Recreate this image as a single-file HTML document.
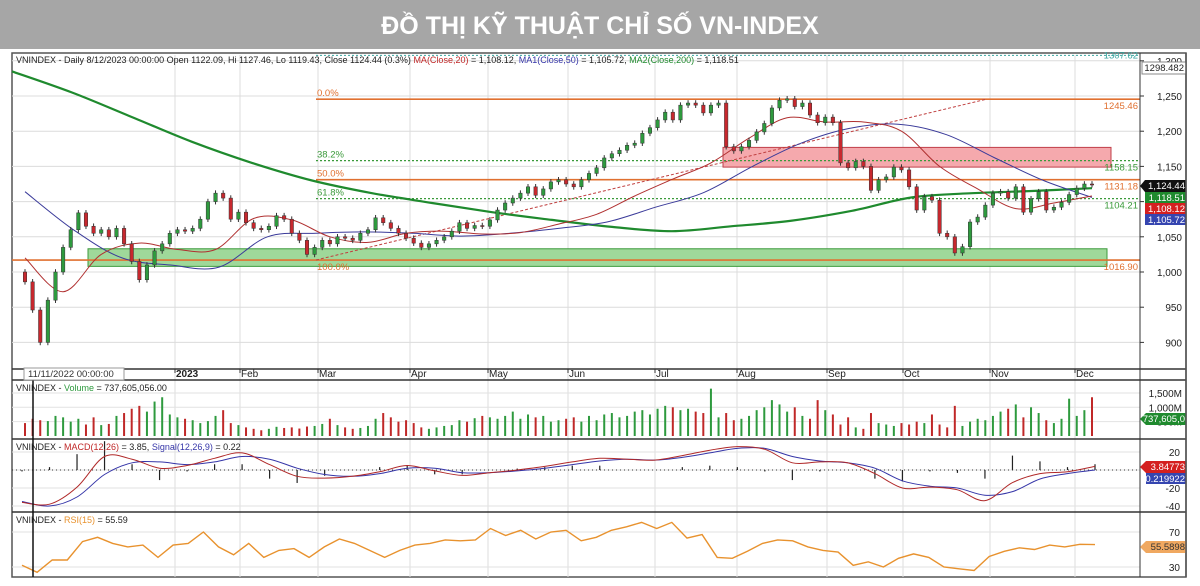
<!DOCTYPE html>
<html><head><meta charset="utf-8">
<style>
html,body{margin:0;padding:0;background:#fff;}
svg{display:block;font-family:"Liberation Sans","Noto Sans CJK SC",sans-serif;}
</style></head>
<body>
<svg id="chart" width="1200" height="586" viewBox="0 0 1200 586" xmlns="http://www.w3.org/2000/svg">
  <rect x="0" y="0" width="1200" height="586" fill="#ffffff"/>
  <rect x="0" y="0" width="1200" height="49" fill="#a6a6a6"/>
  <text x="600" y="34" text-anchor="middle" font-size="25" font-weight="bold" fill="#ffffff">ĐỒ THỊ KỸ THUẬT CHỈ SỐ VN-INDEX</text>
  <rect x="12" y="53" width="1174" height="524" fill="none" stroke="#555" stroke-width="1.5"/>
  <g id="grid"></g>
  <g id="zones"></g>
  <g id="main"></g>
  <g id="lower"></g>
  <g id="axes"></g>
</svg>
<script>
const NS="http://www.w3.org/2000/svg";
// ---- data ----
const months=["2023","Feb","Mar","Apr","May","Jun","Jul","Aug","Sep","Oct","Nov","Dec"];
const priceTicks=[1300,1250,1200,1150,1100,1050,1000,950,900];
const closes=[986,946,900,960,1000,1035,1060,1084,1065,1055,1060,1050,1062,1040,1015,989,1010,1030,1040,1055,1060,1058,1062,1075,1100,1112,1105,1075,1085,1070,1062,1060,1065,1080,1075,1055,1045,1025,1035,1045,1040,1050,1048,1045,1055,
1060,1077,1070,1062,1055,1048,1041,1035,1040,1045,1050,1058,1070,1062,1066,1065,1074,1088,1098,1105,1112,1121,1109,1118,1128,1131,1125,1121,1131,1140,1148,1162,1168,1173,1180,1183,1197,1205,1216,1227,1216,1237,
1240,1237,1226,1237,1240,1178,1172,1178,1187,1199,1211,1233,1244,1246,1235,1240,1223,1212,1220,1212,1155,1148,1157,1150,1116,1131,1135,1149,1145,1121,1088,1107,1102,1055,1050,1027,1036,1071,1078,1095,1112,1114,1105,1121,1085,1104,1114,1088,1092,1099,1110,1119,1125,1124];
const volumes=[450,600,550,520,700,650,500,600,400,650,380,420,700,800,950,1050,850,1200,1350,750,650,600,550,450,520,700,900,450,380,300,250,200,250,320,280,300,260,330,350,420,600,380,300,250,280,
350,600,800,650,500,550,450,300,250,300,350,380,550,500,620,700,650,600,700,850,600,750,650,700,500,550,600,650,500,700,550,750,800,650,700,850,900,750,950,1050,1000,900,
950,850,800,1650,650,800,550,600,700,900,1000,1250,1100,850,1000,700,600,1250,900,750,400,650,300,250,800,450,400,350,450,400,500,450,750,400,300,1050,350,500,600,550,700,850,950,1100,650,1000,800,550,450,600,1300,700,900,1350];
const ma20=[1020,972,1025,1041,1032,1032,1076,1074,1050,1042,1055,1058,1054,1056,1068,1082,1108,1132,1155,1190,1219,1213,1213,1200,1150,1118,1090,1098,1108];
const ma50=[1114,1060,1020,1010,1007,1050,1055,1057,1055,1051,1055,1062,1071,1092,1113,1150,1183,1204,1210,1195,1162,1130,1106];
const ma200=[1285,1255,1220,1185,1155,1130,1112,1098,1085,1074,1064,1058,1065,1073,1087,1106,1112,1115,1119];
const macd=[-36,-38,-19,15,12,2,5,13,19,6,-7,-9,-7,-2,5,-1,-6,-3,0,4,9,13,12,11,16,22,26,23,8,9,8,-4,-20,-19,-22,-34,-14,-4,-2,4];
const signal=[-35,-40,-30,-5,8,9,6,9,15,12,2,-5,-7,-4,2,2,-3,-3,-1,2,6,10,12,11,14,19,24,24,15,10,8,2,-12,-18,-20,-28,-24,-10,-4,0];
const rsi=[32,24,38,38,59,64,57,53,55,41,55,57,70,53,44,57,41,49,51,41,53,62,57,49,41,49,55,57,61,60,61,74,66,72,62,70,72,60,64,72,76,81,74,81,63,67,41,40,48,57,61,60,53,49,47,32,36,30,40,45,41,30,28,26,42,48,52,50,55,53,56,55.6];
const fibLevels=[1245.46,1158.15,1131.18,1104.21,1016.90];
const fibPct=["0.0%","38.2%","50.0%","61.8%","100.0%"];
// ---- layout ----
const monthX=[175,240,318,410,488,568,655,737,827,903,990,1075];
const PL=12,PR=1140;
const py=p=>96+(1250-p)*0.704;
const cx=i=>25+i*(1092-25)/(closes.length-1);
const vy=v=>436-v*0.0287;
const my=v=>470-v*0.9;
const ry=v=>532+(70-v)*0.875;
function mk(tag,attrs,parent,text){const e=document.createElementNS(NS,tag);for(const k in attrs)e.setAttribute(k,attrs[k]);if(text!==undefined)e.textContent=text;document.getElementById(parent).appendChild(e);return e;}
function pts(arr,x0,x1,yf){return arr.map((v,i)=>[x0+i*(x1-x0)/(arr.length-1),yf(v)]);}
function spreadPath(arr,x0,x1,yf){return pts(arr,x0,x1,yf).map((p,i)=>(i?'L':'M')+p[0].toFixed(1)+' '+p[1].toFixed(1)).join(' ');}
function smoothPath(arr,x0,x1,yf){const p=pts(arr,x0,x1,yf);let d='M'+p[0][0].toFixed(1)+' '+p[0][1].toFixed(1);
  for(let i=0;i<p.length-1;i++){const a=p[i-1]||p[i],b=p[i],c=p[i+1],e=p[i+2]||c;
    const c1=[b[0]+(c[0]-a[0])/6,b[1]+(c[1]-a[1])/6],c2=[c[0]-(e[0]-b[0])/6,c[1]-(e[1]-b[1])/6];
    d+=` C${c1[0].toFixed(1)} ${c1[1].toFixed(1)} ${c2[0].toFixed(1)} ${c2[1].toFixed(1)} ${c[0].toFixed(1)} ${c[1].toFixed(1)}`;}
  return d;}
// grid
monthX.forEach((x,i)=>{
  const g=mk('line',{x1:x,y1:55,x2:x,y2:577,stroke:'#dcdcdc','stroke-width':1},'grid');
  
  
  const t=mk('text',{x:x+1,y:377,'font-size':10,fill:'#222','font-weight':i===0?'bold':'normal'},'axes',months[i]);
  
  
  mk('line',{x1:x,y1:369,x2:x,y2:373,stroke:'#333'},'axes');
});
priceTicks.forEach(p=>{
  const l=mk('line',{x1:PL,y1:py(p),x2:PR,y2:py(p),stroke:'#dcdcdc'},'grid');
  
  
  const t=mk('text',{x:1182,y:py(p)+4,'font-size':10,fill:'#222','text-anchor':'end'},'axes',p.toLocaleString('en-US'));
  
  
  mk('line',{x1:PR,y1:py(p),x2:PR+4,y2:py(p),stroke:'#333'},'axes');
});
[[452,'20'],[470,''],[488,'-20'],[506,'-40']].forEach(a=>{mk('line',{x1:PL,y1:a[0],x2:PR,y2:a[0],stroke:'#e2e2e2'},'grid');if(a[1]){const t=mk('text',{x:1180,y:a[0]+4,'font-size':10,'text-anchor':'end',fill:'#222'},'axes',a[1]);}});
[[70,'70'],[30,'30']].forEach(a=>{mk('line',{x1:PL,y1:ry(a[0]),x2:PR,y2:ry(a[0]),stroke:'#e2e2e2'},'grid');const t=mk('text',{x:1180,y:ry(a[0])+4,'font-size':10,'text-anchor':'end',fill:'#222'},'axes',a[1]);});
[[1500,'1,500M'],[1000,'1,000M'],[500,'500M']].forEach(a=>{mk('line',{x1:PL,y1:vy(a[0]),x2:PR,y2:vy(a[0]),stroke:'#e2e2e2'},'grid');const t=mk('text',{x:1182,y:vy(a[0])+4,'font-size':10,'text-anchor':'end',fill:'#222'},'axes',a[1]);});
// zones
let z=mk('rect',{x:88,y:py(1033),width:1019,height:py(1008)-py(1033),fill:'#9fd89a',stroke:'#3c9a3c','stroke-width':1},'zones');


z=mk('rect',{x:723,y:py(1177),width:388,height:py(1149)-py(1177),fill:'#f5a9ad',stroke:'#c0404a','stroke-width':1},'zones');


// fib
const fibCol=['#e07030','#3a9a3a','#e07030','#3a9a3a','#e07030'];
fibLevels.forEach((v,i)=>{
  const dashed=i===1||i===3;
  const l=mk('line',{x1:i===4?PL:316,y1:py(v),x2:PR,y2:py(v),stroke:fibCol[i],'stroke-width':dashed?1.2:1.6,'stroke-dasharray':dashed?'2,2':'none'},'zones');
  
  
  const t=mk('text',{x:317,y:py(v)+(i===4?10:-3),'font-size':9.5,fill:fibCol[i]},'zones',fibPct[i]);
  
  
  const r=mk('text',{x:1138,y:py(v)+10,'font-size':9.5,fill:fibCol[i],'text-anchor':'end'},'zones',v.toFixed(2));
  
  
});
let f=mk('line',{x1:316,y1:py(1307.62),x2:PR,y2:py(1307.62),stroke:'#3aa6a0','stroke-dasharray':'2,2'},'zones');


f=mk('text',{x:1138,y:py(1307.62)+3,'font-size':9.5,fill:'#3aa6a0','text-anchor':'end'},'zones','1307.62');


f=mk('line',{x1:316,y1:py(1017),x2:985,y2:py(1245),stroke:'#c04040','stroke-dasharray':'3,2','stroke-width':1},'zones');


// MAs
let m=mk('path',{d:smoothPath(ma200,12,1092,py),fill:'none',stroke:'#1f8a2e','stroke-width':2.2},'main');


m=mk('path',{d:smoothPath(ma50,25,1092,py),fill:'none',stroke:'#3b3b9a','stroke-width':1},'main');


m=mk('path',{d:smoothPath(ma20,25,1092,py),fill:'none',stroke:'#b03030','stroke-width':1},'main');


// candles + volume
closes.forEach((c,i)=>{
  const o=i?closes[i-1]:1000;
  const up=c>=o;
  const x=cx(i);
  const hi=Math.max(o,c)+4, lo=Math.min(o,c)-4;
  const w=mk('line',{x1:x,y1:py(hi),x2:x,y2:py(lo),stroke:'#333','stroke-width':1},'main');
  
  
  const b=mk('rect',{x:x-1.75,y:py(Math.max(o,c)),width:3.5,height:Math.max(1,Math.abs(py(o)-py(c))),fill:up?'#2e9a3e':'#c8282e',stroke:'#333','stroke-width':0.5},'main');
  
  
  const v=mk('rect',{x:x-1,y:vy(volumes[i]),width:2,height:436-vy(volumes[i]),fill:up?'#2e9a3e':'#c02828'},'lower');
  
  
});
// MACD
macd.forEach((v,i)=>{
  const x=22+i*(1095-22)/(macd.length-1);
  const d=v-signal[i];
  const h=mk('line',{x1:x,y1:my(0),x2:x,y2:my(d*1.6),stroke:'#222','stroke-width':1.2},'lower');
  
  
});
mk('line',{x1:PL,y1:my(0),x2:PR,y2:my(0),stroke:'#333','stroke-dasharray':'1,3'},'lower');
m=mk('path',{d:smoothPath(signal,22,1095,my),fill:'none',stroke:'#3535a8','stroke-width':1},'lower');


m=mk('path',{d:smoothPath(macd,22,1095,my),fill:'none',stroke:'#b02828','stroke-width':1},'lower');


m=mk('path',{d:spreadPath(rsi,22,1095,ry),fill:'none',stroke:'#e8922e','stroke-width':1.4},'lower');


</script>
<script>
(function(){
const s=document.getElementById('chart');
function add(html){s.insertAdjacentHTML('beforeend',html);}
add(`
<line x1="1140" y1="53" x2="1140" y2="577" stroke="#333"/>
<line x1="12" y1="369" x2="1186" y2="369" stroke="#333" stroke-width="1.5"/>
<line x1="12" y1="380" x2="1186" y2="380" stroke="#333" stroke-width="1.5"/>
<line x1="12" y1="439" x2="1186" y2="439" stroke="#333" stroke-width="1.5"/>
<line x1="12" y1="512" x2="1186" y2="512" stroke="#333" stroke-width="1.5"/>
<line x1="33" y1="378" x2="33" y2="577" stroke="#111" stroke-width="1.5"/>
<rect x="24" y="368" width="100" height="12" fill="#fff" stroke="#999"/>
<text x="28" y="377" font-size="9.5" fill="#333">11/11/2022 00:00:00</text>
<text x="16" y="63" font-size="9" fill="#222">VNINDEX - Daily 8/12/2023 00:00:00 Open 1122.09, Hi 1127.46, Lo 1119.43, Close 1124.44 (0.3%) <tspan fill="#c02828">MA(Close,20)</tspan> = 1,108.12, <tspan fill="#3535a8">MA1(Close,50)</tspan> = 1,105.72, <tspan fill="#1f8a2e">MA2(Close,200)</tspan> = 1,118.51</text>
<text x="16" y="391" font-size="9" fill="#222">VNINDEX - <tspan fill="#2e9a3e">Volume</tspan> = 737,605,056.00</text>
<text x="16" y="450" font-size="9" fill="#222">VNINDEX - <tspan fill="#c02828">MACD(12,26)</tspan> = 3.85, <tspan fill="#3535a8">Signal(12,26,9)</tspan> = 0.22</text>
<text x="16" y="523" font-size="9" fill="#222">VNINDEX - <tspan fill="#e8922e">RSI(15)</tspan> = 55.59</text>
<rect x="1142" y="62" width="44" height="12" fill="#fff" stroke="#888"/>
<text x="1184" y="71" font-size="9.5" text-anchor="end" fill="#222">1298.482</text>
<g font-size="9.5" fill="#fff" text-anchor="end">
<path d="M1140 186 L1145 180 L1186 180 L1186 192 L1145 192 Z" fill="#111"/>
<text x="1185" y="189">1,124.44</text>
<rect x="1145" y="192" width="41" height="11" fill="#1f8a2e"/>
<text x="1185" y="201">1,118.51</text>
<rect x="1145" y="203" width="41" height="11" fill="#d42020"/>
<text x="1185" y="212">1,108.12</text>
<rect x="1145" y="214" width="41" height="11" fill="#3545b0"/>
<text x="1185" y="223">1,105.72</text>
<path d="M1140 419 L1146 413 L1186 413 L1186 425 L1146 425 Z" fill="#1f8a2e"/>
<text x="1185" y="422">737,605,0</text>
<path d="M1140 467 L1146 461 L1186 461 L1186 473 L1146 473 Z" fill="#d42020"/>
<text x="1185" y="470">3.84773</text>
<rect x="1146" y="473" width="40" height="11" fill="#3545b0"/>
<text x="1185" y="482">0.219922</text>
<path d="M1140 547 L1146 541 L1186 541 L1186 553 L1146 553 Z" fill="#f0a860"/>
<text x="1185" y="550" fill="#333">55.5898</text>
</g>
<line x1="1186" y1="53" x2="1186" y2="577" stroke="#555" stroke-width="1.5"/>
`);
})();
</script>
</body></html>
